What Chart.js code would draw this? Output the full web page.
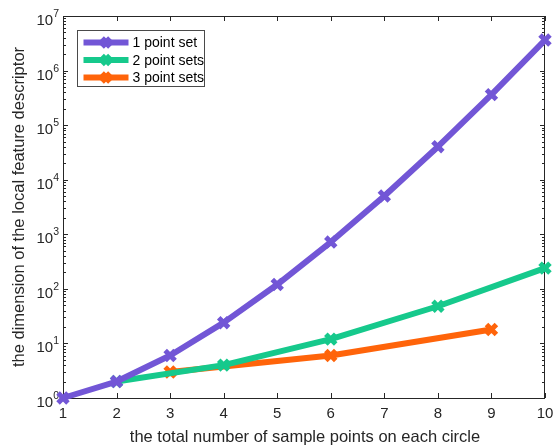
<!DOCTYPE html>
<html>
<head>
<meta charset="utf-8">
<script src="https://cdn.jsdelivr.net/npm/chart.js@4/dist/chart.umd.min.js"></script>
<style>
  html, body { margin: 0; padding: 0; background: #fff; }
</style>
</head>
<body>
<canvas id="c" width="557" height="448"></canvas>
<script>
// Axis ticks
const xTicks = [1, 2, 3, 4, 5, 6, 7, 8, 9, 10];
const yDecades = [0, 1, 2, 3, 4, 5, 6, 7];

// Series
const seriesNames = ['1 point set', '2 point sets', '3 point sets'];
const seriesColors = ['rgb(114,86,214)', 'rgb(22,201,140)', 'rgb(255,100,10)'];
const oneSetX = [1, 2, 3, 4, 5, 6, 7, 8, 9, 10];
const oneSetY = [1, 2, 6, 24, 120, 720, 5040, 40320, 362880, 3628800];
const twoSetsX = [2, 4, 6, 8, 10];
const twoSetsY = [2, 4, 12, 48, 240];
const threeSetsX = [3, 6, 9];
const threeSetsY = [3, 6, 18];

const xTitle = 'the total number of sample points on each circle';
const yTitle = 'the dimension of the local feature descriptor';

const FONT = '"Liberation Sans", Arial, Helvetica, sans-serif';
const AXIS_COLOR = '#262626';

function pts(xs, ys) { return xs.map((x, i) => ({ x: x, y: ys[i] })); }

function ds(i, data) {
  return {
    label: seriesNames[i],
    data: data,
    borderColor: seriesColors[i],
    backgroundColor: seriesColors[i],
    borderWidth: 6,
    pointStyle: 'crossRot',
    pointRadius: 7,
    pointBorderWidth: 5,
    pointBorderColor: seriesColors[i],
    pointHoverRadius: 7,
    tension: 0,
    clip: false,
    borderJoinStyle: 'round'
  };
}

// Axes box, inward ticks, tick labels and titles in the MATLAB look
const axesPlugin = {
  id: 'axesBox',
  beforeDatasetsDraw(chart) {
    const { ctx, chartArea: a, scales } = chart;
    const xs = scales.x, ys = scales.y;
    ctx.save();
    ctx.strokeStyle = AXIS_COLOR;
    ctx.lineWidth = 1;
    ctx.strokeRect(a.left + 0.5, a.top + 0.5, a.right - a.left - 1, a.bottom - a.top);

    ctx.beginPath();
    xTicks.forEach(v => {
      const px = Math.round(xs.getPixelForValue(v)) + 0.5;
      ctx.moveTo(px, a.bottom); ctx.lineTo(px, a.bottom - 5);
      ctx.moveTo(px, a.top); ctx.lineTo(px, a.top + 5);
    });
    yDecades.forEach(k => {
      const base = Math.pow(10, k);
      const py = Math.round(ys.getPixelForValue(base)) + 0.5;
      ctx.moveTo(a.left, py); ctx.lineTo(a.left + 5, py);
      ctx.moveTo(a.right, py); ctx.lineTo(a.right - 5, py);
      if (k < yDecades[yDecades.length - 1]) {
        for (let m = 2; m <= 9; m++) {
          const my = Math.round(ys.getPixelForValue(m * base)) + 0.5;
          ctx.moveTo(a.left, my); ctx.lineTo(a.left + 3, my);
          ctx.moveTo(a.right, my); ctx.lineTo(a.right - 3, my);
        }
      }
    });
    ctx.stroke();

    // x tick labels
    ctx.fillStyle = AXIS_COLOR;
    ctx.font = '15px ' + FONT;
    ctx.textAlign = 'center';
    ctx.textBaseline = 'middle';
    xTicks.forEach(v => {
      ctx.fillText(String(v), xs.getPixelForValue(v), a.bottom + 16);
    });

    // y tick labels: 10 with superscript exponent
    yDecades.forEach(k => {
      const py = ys.getPixelForValue(Math.pow(10, k));
      ctx.font = '10.5px ' + FONT;
      ctx.textAlign = 'right';
      ctx.textBaseline = 'alphabetic';
      const expW = ctx.measureText(String(k)).width;
      ctx.fillText(String(k), a.left - 4, py + 1);
      ctx.font = '15px ' + FONT;
      ctx.fillText('10', a.left - 4 - expW, py + 9);
    });

    // axis titles
    ctx.font = '16.5px ' + FONT;
    ctx.textAlign = 'center';
    ctx.textBaseline = 'middle';
    ctx.fillText(xTitle, (a.left + a.right) / 2 + 1, a.bottom + 39);
    ctx.save();
    ctx.translate(19, (a.top + a.bottom) / 2);
    ctx.rotate(-Math.PI / 2);
    ctx.fillText(yTitle, 0, 0);
    ctx.restore();
    ctx.restore();
  },
  afterDraw(chart) {
    // legend box in the upper-left corner of the plot
    const { ctx, chartArea: a } = chart;
    const bx = a.left + 14.5, by = a.top + 14.5, bw = 127, bh = 56;
    ctx.save();
    ctx.fillStyle = '#fff';
    ctx.fillRect(bx, by, bw, bh);
    ctx.strokeStyle = '#4a4a4a';
    ctx.lineWidth = 1;
    ctx.strokeRect(bx, by, bw, bh);
    seriesNames.forEach((name, i) => {
      const y = by + 12 + i * 17.5;
      const x0 = bx + 6, x1 = bx + 51;
      ctx.strokeStyle = seriesColors[i];
      ctx.lineWidth = 6;
      ctx.beginPath();
      ctx.moveTo(x0, y); ctx.lineTo(x1, y);
      ctx.stroke();
      Chart.helpers.drawPoint(ctx, {
        pointStyle: 'crossRot', radius: 6, borderWidth: 5
      }, (x0 + x1) / 2, y);
      ctx.fillStyle = '#000';
      ctx.font = '14px ' + FONT;
      ctx.textAlign = 'left';
      ctx.textBaseline = 'middle';
      ctx.fillText(name, x1 + 4, y + 1);
    });
    ctx.restore();
  }
};

new Chart(document.getElementById('c'), {
  type: 'line',
  data: {
    datasets: [
      ds(0, pts(oneSetX, oneSetY)),
      ds(1, pts(twoSetsX, twoSetsY)),
      ds(2, pts(threeSetsX, threeSetsY))
    ]
  },
  options: {
    responsive: false,
    devicePixelRatio: 1,
    animation: false,
    layout: { padding: { left: 63, right: 8, top: 16, bottom: 50 } },
    scales: {
      x: { type: 'linear', min: 1, max: 10, display: false },
      y: { type: 'logarithmic', min: 1, max: 1e7, display: false }
    },
    plugins: {
      legend: { display: false },
      tooltip: { enabled: false }
    }
  },
  plugins: [axesPlugin]
});
</script>
</body>
</html>
